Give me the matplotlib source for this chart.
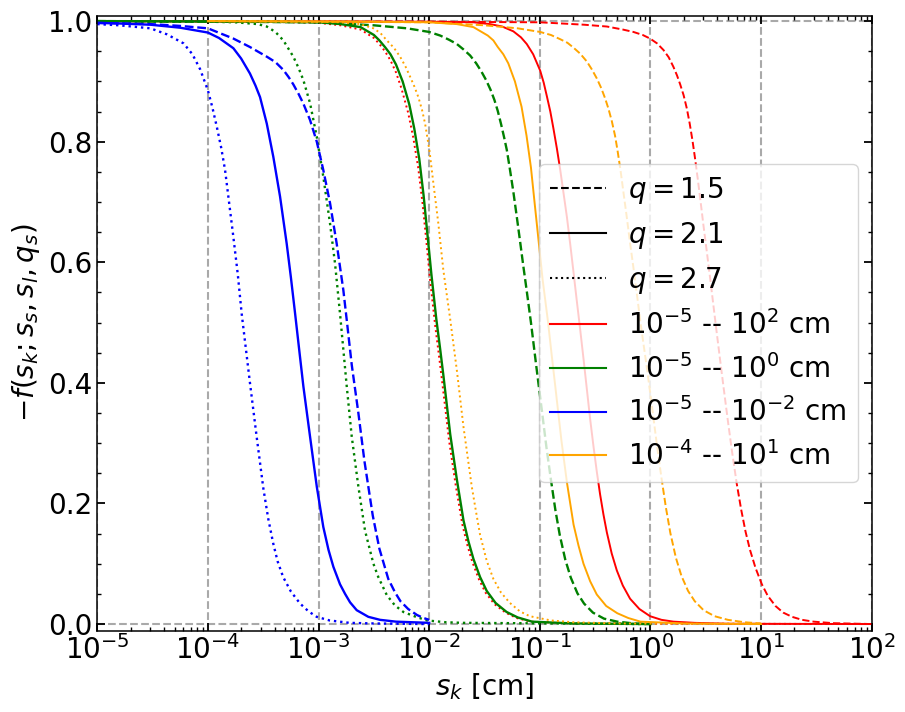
import numpy as np
import matplotlib
matplotlib.use("Agg")
import matplotlib.pyplot as plt
from matplotlib.lines import Line2D
from matplotlib.ticker import AutoMinorLocator

# values: x as log10(s_k / cm), y as -f
red_q15_x = [-5.0, -2.0, -1.0, -0.6, -0.394, -0.25, -0.154, -0.07, -0.003, 0.06, 0.118, 0.165, 0.208,
             0.24, 0.269, 0.3, 0.329, 0.355, 0.38, 0.405, 0.43, 0.455, 0.48, 0.51, 0.54, 0.565, 0.59,
             0.625, 0.66, 0.7, 0.736, 0.78, 0.82, 0.86, 0.9, 0.95, 1.007, 1.06, 1.13, 1.2, 1.28, 1.37,
             1.474, 1.65, 2.0]
red_q15_y = [1.0, 0.999, 0.998, 0.994, 0.991, 0.986, 0.982, 0.977, 0.971, 0.963, 0.952, 0.94, 0.924,
             0.91, 0.895, 0.877, 0.855, 0.83, 0.802, 0.77, 0.735, 0.698, 0.66, 0.617, 0.573, 0.535, 0.497,
             0.445, 0.394, 0.337, 0.288, 0.233, 0.19, 0.153, 0.123, 0.093, 0.066, 0.047, 0.03, 0.019,
             0.012, 0.007, 0.004, 0.0015, 0.0]
red_q21_x = [-5.0, -2.5, -2.0, -1.6, -1.45, -1.34, -1.239, -1.17, -1.118, -1.06, -0.997, -0.965, -0.937,
             -0.905, -0.877, -0.845, -0.816, -0.785, -0.755, -0.725, -0.695, -0.665, -0.636, -0.605,
             -0.575, -0.545, -0.515, -0.485, -0.455, -0.425, -0.394, -0.35, -0.304, -0.25, -0.184, -0.1,
             -0.003, 0.1, 0.208, 0.4, 0.7, 2.0]
red_q21_y = [1.0, 0.999, 0.999, 0.998, 0.995, 0.991, 0.983, 0.973, 0.962, 0.945, 0.918, 0.898, 0.876,
             0.85, 0.822, 0.788, 0.754, 0.714, 0.675, 0.63, 0.583, 0.535, 0.49, 0.44,
             0.39, 0.34, 0.295, 0.253, 0.215, 0.182, 0.152, 0.117, 0.089, 0.064, 0.042, 0.025,
             0.013, 0.007, 0.004, 0.002, 0.0005, 0.0]
red_q27_x = [-5.0, -3.5, -3.0, -2.8, -2.62, -2.5, -2.45, -2.4, -2.35, -2.3, -2.25, -2.19, -2.145, -2.1,
             -2.06, -2.025, -1.99, -1.945, -1.91, -1.88, -1.82, -1.76, -1.7, -1.655, -1.61, -1.55, -1.49,
             -1.41, -1.31, -1.21, -1.08, -0.7, 2.0]
red_q27_y = [1.0, 0.999, 0.997, 0.993, 0.986, 0.972, 0.962, 0.95, 0.935, 0.915, 0.888, 0.848, 0.808,
             0.758, 0.698, 0.634, 0.568, 0.494, 0.443, 0.398, 0.304, 0.23, 0.165, 0.131, 0.103, 0.074,
             0.052, 0.033, 0.019, 0.01, 0.004, 0.001, 0.0]

green_q15_x = [-5.0, -4.0, -3.0, -2.5, -2.2, -2.0, -1.9, -1.82, -1.75, -1.69, -1.63, -1.575, -1.53,
               -1.485, -1.445, -1.41, -1.38, -1.35, -1.32, -1.298, -1.27, -1.24, -1.21, -1.18, -1.15,
               -1.12, -1.08, -1.03, -0.98, -0.94, -0.9, -0.86, -0.82, -0.77, -0.72, -0.66, -0.6, -0.52,
               -0.42, -0.3, -0.15, 0.0]
green_q15_y = [1.0, 0.999, 0.998, 0.993, 0.988, 0.982, 0.976, 0.969, 0.962, 0.953, 0.943, 0.93, 0.917,
               0.902, 0.886, 0.869, 0.851, 0.829, 0.805, 0.786, 0.754, 0.718, 0.678, 0.637, 0.595,
               0.555, 0.5, 0.425, 0.352, 0.293, 0.24, 0.19, 0.148, 0.107, 0.077, 0.051, 0.034, 0.019,
               0.009, 0.004, 0.001, 0.0]
green_q21_x = [-5.0, -3.5, -3.0, -2.8, -2.62, -2.5, -2.45, -2.4, -2.35, -2.3, -2.24, -2.18, -2.135,
               -2.09, -2.05, -2.015, -1.98, -1.935, -1.9, -1.87, -1.81, -1.75, -1.69, -1.645, -1.6,
               -1.54, -1.48, -1.4, -1.3, -1.2, -1.07, -0.7, 0.0]
green_q21_y = [1.0, 0.999, 0.998, 0.995, 0.99, 0.977, 0.968, 0.957, 0.945, 0.928, 0.9, 0.862, 0.822,
               0.772, 0.71, 0.645, 0.58, 0.505, 0.455, 0.41, 0.315, 0.24, 0.172, 0.137, 0.108,
               0.078, 0.055, 0.035, 0.02, 0.011, 0.004, 0.001, 0.0]
green_q27_x = [-5.0, -4.0, -3.75, -3.55, -3.468, -3.39, -3.318, -3.228, -3.18, -3.137, -3.077, -3.016,
               -2.957, -2.896, -2.851, -2.806, -2.745, -2.7, -2.64, -2.58, -2.504, -2.46, -2.383, -2.31,
               -2.233, -2.12, -2.02, -1.85, -1.7, 0.0]
green_q27_y = [0.999, 0.999, 0.998, 0.995, 0.991, 0.982, 0.968, 0.941, 0.922, 0.902, 0.864, 0.808,
               0.742, 0.664, 0.598, 0.515, 0.394, 0.311, 0.228, 0.155, 0.1, 0.078, 0.048, 0.031,
               0.02, 0.012, 0.006, 0.003, 0.002, 0.0]

blue_q15_x = [-5.0, -4.52, -4.25, -4.0, -3.77, -3.62, -3.468, -3.39, -3.318, -3.27, -3.228, -3.18,
              -3.137, -3.077, -3.016, -2.957, -2.896, -2.836, -2.776, -2.745, -2.7, -2.64, -2.585,
              -2.51, -2.45, -2.37, -2.31, -2.26, -2.19, -2.11, -2.05, -2.0]
blue_q15_y = [0.997, 0.995, 0.992, 0.988, 0.971, 0.957, 0.941, 0.932, 0.919, 0.907, 0.895, 0.879,
              0.863, 0.836, 0.8, 0.753, 0.698, 0.631, 0.554, 0.504, 0.43, 0.35, 0.27,
              0.18, 0.125, 0.075, 0.053, 0.038, 0.025, 0.015, 0.01, 0.007]
blue_q21_x = [-5.0, -4.8, -4.52, -4.25, -4.0, -3.9, -3.77, -3.7, -3.62, -3.57, -3.529, -3.468, -3.409,
              -3.348, -3.288, -3.25, -3.212, -3.17, -3.137, -3.077, -3.016, -2.957, -2.91, -2.866,
              -2.806, -2.76, -2.715, -2.655, -2.55, -2.444, -2.3, -2.0]
blue_q21_y = [0.997, 0.996, 0.994, 0.989, 0.981, 0.972, 0.955, 0.938, 0.913, 0.893, 0.874, 0.83, 0.775,
              0.709, 0.631, 0.575, 0.515, 0.447, 0.394, 0.311, 0.228, 0.161, 0.123, 0.095,
              0.066, 0.05, 0.036, 0.023, 0.012, 0.007, 0.004, 0.002]
blue_q27_x = [-5.0, -4.8, -4.52, -4.37, -4.22, -4.14, -4.07, -4.0, -3.96, -3.92, -3.88, -3.845, -3.77,
              -3.73, -3.695, -3.62, -3.559, -3.499, -3.455, -3.41, -3.37, -3.32, -3.25, -3.167, -3.09,
              -3.017, -2.9, -2.72, -2.5, -2.0]
blue_q27_y = [0.995, 0.993, 0.988, 0.978, 0.963, 0.945, 0.92, 0.885, 0.857, 0.825, 0.79, 0.753, 0.642,
              0.58, 0.515, 0.4, 0.31, 0.225, 0.175, 0.134, 0.104, 0.078, 0.054, 0.034, 0.021,
              0.012, 0.006, 0.002, 0.001, 0.0]

orange_q15_x = [-4.0, -3.0, -2.0, -1.5, -1.2, -0.997, -0.9, -0.816, -0.75, -0.696, -0.635, -0.575,
                -0.53, -0.485, -0.445, -0.41, -0.38, -0.349, -0.32, -0.298, -0.27, -0.244, -0.214,
                -0.184, -0.153, -0.123, -0.09, -0.03, 0.02, 0.06, 0.1, 0.14, 0.18, 0.23, 0.28, 0.34,
                0.4, 0.48, 0.58, 0.7, 0.85, 1.0]
orange_q15_y = [1.0, 0.999, 0.998, 0.993, 0.988, 0.982, 0.977, 0.97, 0.964, 0.956, 0.946, 0.933,
                0.92, 0.905, 0.889, 0.872, 0.855, 0.834, 0.81, 0.786, 0.752, 0.716, 0.675,
                0.632, 0.59, 0.548, 0.5, 0.422, 0.352, 0.295, 0.242, 0.193, 0.151, 0.11, 0.08, 0.055,
                0.038, 0.023, 0.013, 0.007, 0.003, 0.001]
orange_q21_x = [-4.0, -2.5, -2.0, -1.75, -1.6, -1.47, -1.42, -1.38, -1.33, -1.285, -1.225, -1.165,
                -1.12, -1.08, -1.045, -1.01, -0.975, -0.925, -0.895, -0.865, -0.805, -0.755, -0.695,
                -0.65, -0.605, -0.545, -0.485, -0.4, -0.3, -0.2, -0.09, 0.3, 1.0]
orange_q21_y = [1.0, 0.999, 0.998, 0.995, 0.99, 0.976, 0.968, 0.957, 0.945, 0.93, 0.9, 0.858,
                0.81, 0.757, 0.695, 0.634, 0.572, 0.5, 0.45, 0.402, 0.305, 0.235, 0.165,
                0.13, 0.1, 0.071, 0.049, 0.03, 0.018, 0.01, 0.004, 0.001, 0.0]
orange_q27_x = [-4.0, -3.0, -2.8, -2.625, -2.504, -2.44, -2.383, -2.32, -2.263, -2.215, -2.173, -2.135,
                -2.098, -2.065, -2.037, -1.998, -1.962, -1.917, -1.872, -1.811, -1.75, -1.69, -1.615,
                -1.58, -1.54, -1.48, -1.42, -1.35, -1.27, -1.18, -1.09, -0.9, -0.7, -0.3, 1.0]
orange_q27_y = [1.0, 0.999, 0.998, 0.995, 0.988, 0.98, 0.968, 0.956, 0.941, 0.925, 0.908, 0.892,
                0.874, 0.853, 0.83, 0.786, 0.731, 0.664, 0.587, 0.507, 0.421, 0.327, 0.228,
                0.19, 0.148, 0.105, 0.075, 0.052, 0.035, 0.021, 0.013, 0.006, 0.003, 0.001, 0.0]

q_labels = [r"$q = 1.5$", r"$q = 2.1$", r"$q = 2.7$"]
q_styles = ["--", "-", ":"]
range_labels = [r"$10^{-5}$ -- $10^{2}$ cm", r"$10^{-5}$ -- $10^{0}$ cm",
                r"$10^{-5}$ -- $10^{-2}$ cm", r"$10^{-4}$ -- $10^{1}$ cm"]
range_colors = ["red", "green", "blue", "orange"]
range_lw = [1.4, 1.7, 1.7, 1.4]

curves = [
    [(red_q15_x, red_q15_y), (red_q21_x, red_q21_y), (red_q27_x, red_q27_y)],
    [(green_q15_x, green_q15_y), (green_q21_x, green_q21_y), (green_q27_x, green_q27_y)],
    [(blue_q15_x, blue_q15_y), (blue_q21_x, blue_q21_y), (blue_q27_x, blue_q27_y)],
    [(orange_q15_x, orange_q15_y), (orange_q21_x, orange_q21_y), (orange_q27_x, orange_q27_y)],
]

fig = plt.figure(figsize=(9.05, 7.12), dpi=100)
ax = fig.add_axes([0.1075, 0.1142, 0.8557, 0.8638])

for e in range(-5, 3):
    ax.axvline(10.0**e, color="darkgray", ls="--", lw=1.5, zorder=1)
ax.axhline(0.0, color="darkgray", ls="--", lw=1.5, zorder=1)
ax.axhline(1.0, color="darkgray", ls="--", lw=1.5, zorder=1)

for group, col, lw in zip(curves, range_colors, range_lw):
    for (lx, fy), ls in zip(group, q_styles):
        ax.plot(10.0**np.array(lx), fy, color=col, ls=ls, lw=lw, zorder=2)

ax.set_xscale("log")
ax.set_xlim(1e-5, 1e2)
ax.set_ylim(-0.011, 1.009)
ax.yaxis.set_minor_locator(AutoMinorLocator(4))
ax.tick_params(which="both", direction="in", top=True, right=True, labelsize=20)
ax.tick_params(which="major", length=5.5, width=1.3)
ax.tick_params(which="minor", length=3.1, width=1.0)
for sp in ax.spines.values():
    sp.set_linewidth(1.1)

ax.set_xlabel(r"$s_k$ [cm]", fontsize=20)
ax.set_ylabel(r"$-f(s_k; s_s, s_l, q_s)$", fontsize=20)

handles = [Line2D([], [], color="black", ls=ls, lw=1.5) for ls in q_styles]
handles += [Line2D([], [], color=c, ls="-", lw=1.5) for c in range_colors]
ax.legend(handles=handles, labels=q_labels + range_labels, loc="center right", fontsize=20)

fig.savefig("out.png", dpi=100)
